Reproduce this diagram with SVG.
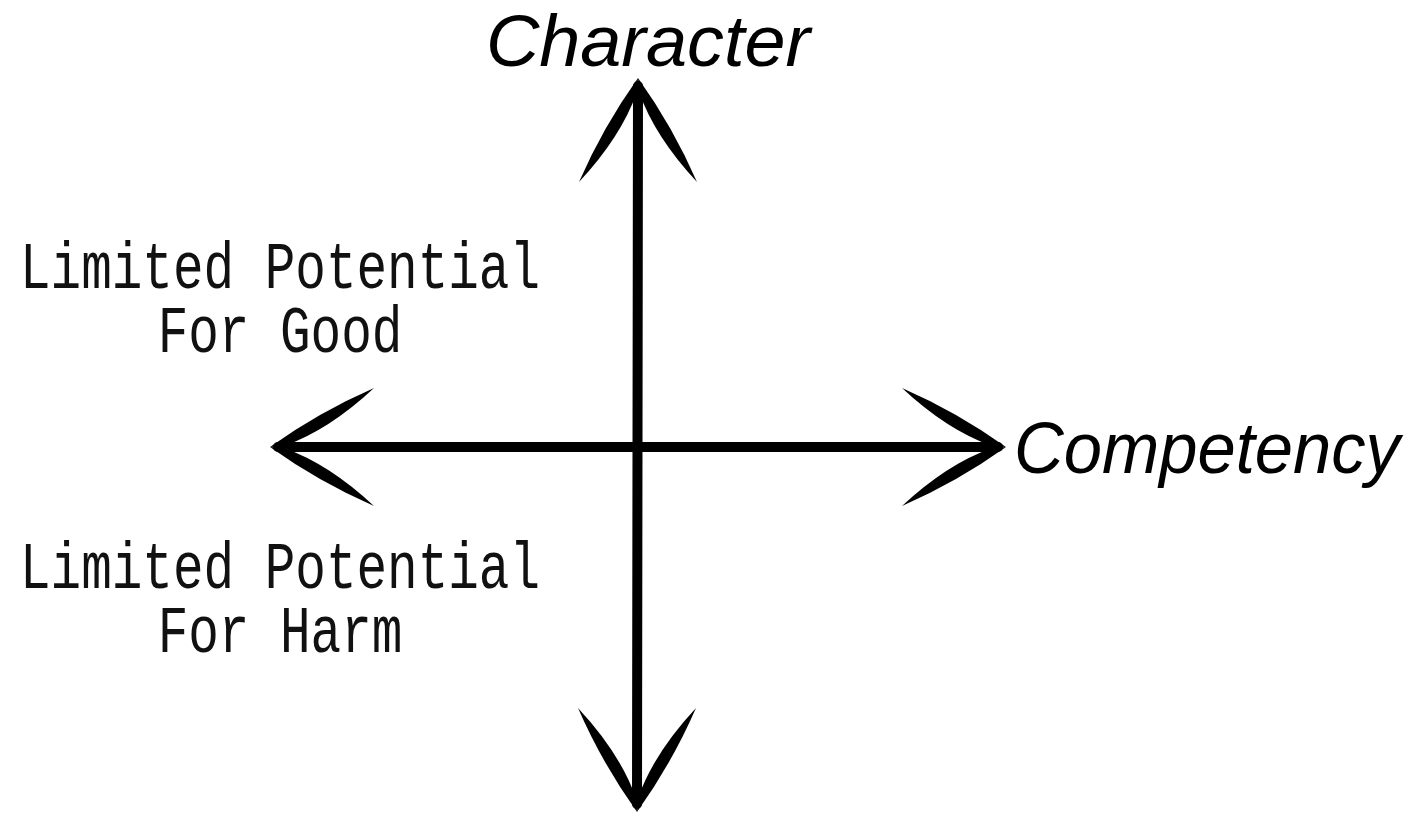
<svg xmlns="http://www.w3.org/2000/svg" width="1423" height="815" viewBox="0 0 1423 815">
<style>
.shaft{stroke:#000;stroke-width:10;stroke-linecap:round;fill:none}
.hand{font-family:"Liberation Sans","DejaVu Sans",sans-serif;font-style:italic;fill:#000}
.type{font-family:"Liberation Mono","DejaVu Sans Mono",monospace;font-size:51px;fill:#111;text-anchor:middle}
</style>
<defs>
<g id="head">
<path d="M0,0 Q-35,49 -59,104 Q-17,59 -1,14 Z" fill="#000"/>
<path d="M0,0 Q35,49 59,104 Q17,59 1,14 Z" fill="#000"/>
</g>
</defs>
<rect width="1423" height="815" fill="#fff"/>
<g id="connectors">
<line class="shaft" x1="638" y1="86" x2="637" y2="804"/>
<line class="shaft" x1="278" y1="447" x2="998" y2="447"/>
<use href="#head" transform="translate(638,78)"/>
<use href="#head" transform="translate(637,812) rotate(180)"/>
<use href="#head" transform="translate(270,447) rotate(-90)"/>
<use href="#head" transform="translate(1006,447) rotate(90)"/>
</g>
<g id="character">
<text class="hand" x="486" y="66" font-size="72" textLength="324" lengthAdjust="spacingAndGlyphs">Character</text>
</g>
<g id="competency">
<text class="hand" x="1014" y="473" font-size="72" textLength="386" lengthAdjust="spacingAndGlyphs">Competency</text>
</g>
<g id="good">
<text class="type" transform="translate(280,288) scale(1,1.3)" x="0" y="0">Limited Potential</text>
<text class="type" transform="translate(280,352) scale(1,1.3)" x="0" y="0">For Good</text>
</g>
<g id="harm">
<text class="type" transform="translate(280,588) scale(1,1.3)" x="0" y="0">Limited Potential</text>
<text class="type" transform="translate(280,652) scale(1,1.3)" x="0" y="0">For Harm</text>
</g>
</svg>
